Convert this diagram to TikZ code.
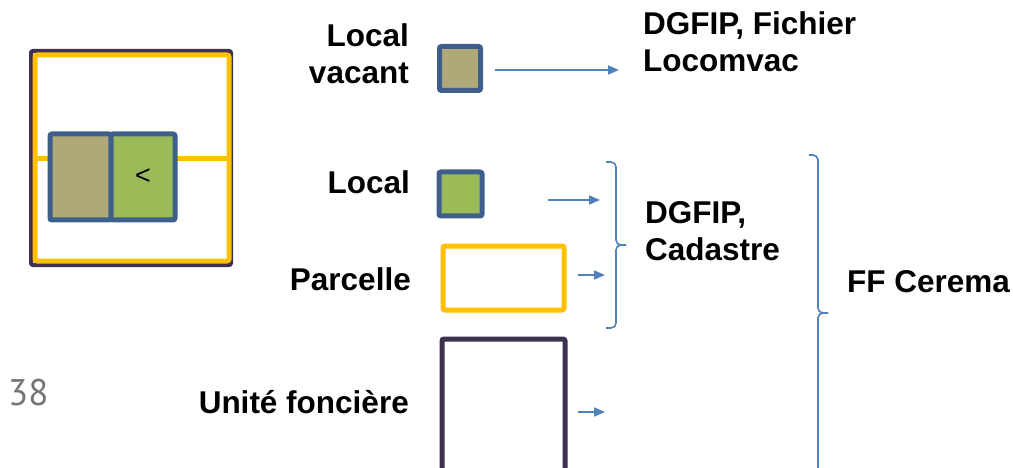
\documentclass[tikz,border=0pt]{standalone}
\usepackage{fontspec}
\setmainfont{Liberation Sans}
\newfontfamily\numfont{PT Sans}
\usetikzlibrary{arrows.meta}
\definecolor{cTan}{HTML}{B0A878}
\definecolor{cGreen}{HTML}{9BBB59}
\definecolor{cBlueBd}{HTML}{3D5F8A}
\definecolor{cYellow}{HTML}{FFC000}
\definecolor{cDark}{HTML}{3F3151}
\definecolor{cArrow}{HTML}{4F81BD}
\definecolor{cGray}{HTML}{757575}
\begin{document}
\begin{tikzpicture}[x=1pt,y=-1pt,
  lbl/.style={font=\fontsize{31.5}{37}\selectfont\bfseries, inner sep=0pt},
  box/.style={inner sep=0pt, rounded corners=2pt},
  lockbox/.style={box, draw=cBlueBd, line width=5pt},
  arr/.style={draw=cArrow, line width=1.6pt, -{Triangle[length=11pt,width=9pt]}},
  bracepath/.style={draw=cArrow, line width=1.6pt, rounded corners=5pt}]
\useasboundingbox (0,0) rectangle (1013,468);

% left composite
\node[box, draw=cDark, line width=4pt, minimum width=200pt, minimum height=214pt] (ld) at (131,158) {};
\node[box, draw=cYellow, line width=5pt, minimum width=194pt, minimum height=206pt] (ly) at (132,158) {};
\coordinate (hl) at (35,159);
\coordinate (hr) at (229,159);
\draw[cYellow, line width=5pt] (hl) -- (hr);
\node[lockbox, fill=cTan, minimum width=61pt, minimum height=86pt] (lt) at (80.5,177) {};
\node[lockbox, fill=cGreen, minimum width=64pt, minimum height=86pt, font=\fontsize{27}{30}\selectfont] (lg) at (143,177) {<};

% legend boxes
\node[lockbox, fill=cTan, minimum width=41pt, minimum height=44pt] (blv) at (460,68.5) {};
\node[lockbox, fill=cGreen, minimum width=43pt, minimum height=44pt] (bl) at (460.5,194) {};
\node[box, draw=cYellow, line width=5pt, minimum width=121pt, minimum height=64pt] (bp) at (503.5,278) {};
\node[box, draw=cDark, line width=5pt, minimum width=123pt, minimum height=141pt] (buf) at (503.5,409.5) {};

% labels (multi-line nodes: base = last line)
\node[lbl, anchor=base east, align=right] (tlv) at (409,84) {Local\\vacant};
\node[lbl, anchor=base west, align=left] (tdf) at (643,72) {DGFIP, Fichier\\Locomvac};
\node[lbl, anchor=base east] (tl) at (410,194) {Local};
\node[lbl, anchor=base east] (tp) at (411,290) {Parcelle};
\node[lbl, anchor=base east] (tuf) at (409,413) {Unité foncière};
\node[lbl, anchor=base west, align=left] (tdc) at (645,260) {DGFIP,\\Cadastre};
\node[lbl, anchor=base west] (tff) at (847,292) {FF Cerema};
\node[anchor=base west, inner sep=0pt, text=cGray, font=\numfont\fontsize{37}{40}\selectfont] (n38) at (8,405) {38};

% arrows
\coordinate (a1s) at (495,70);  \coordinate (a1e) at (619,70);
\coordinate (a2s) at (548,200); \coordinate (a2e) at (600,200);
\coordinate (a3s) at (578,275); \coordinate (a3e) at (605,275);
\coordinate (a4s) at (578,412); \coordinate (a4e) at (605,412);
\draw[arr] (a1s) -- (a1e);
\draw[arr] (a2s) -- (a2e);
\draw[arr] (a3s) -- (a3e);
\draw[arr] (a4s) -- (a4e);

% braces
\draw[bracepath] (606,162) -- (616,162) -- (616,245) -- (626,245);
\draw[bracepath] (626,245) -- (616,245) -- (616,328) -- (606,328);
\draw[bracepath] (809,155) -- (818,155) -- (818,313) -- (828,313);
\draw[bracepath] (828,313) -- (818,313) -- (818,490);
\end{tikzpicture}
\end{document}
